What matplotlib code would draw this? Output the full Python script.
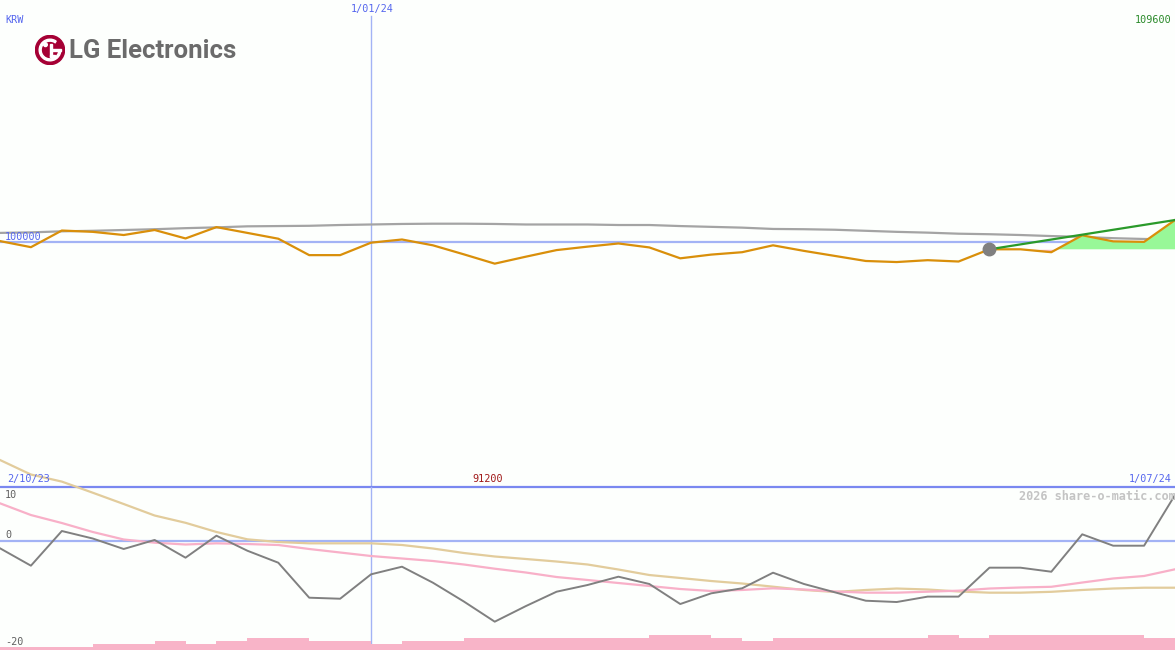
import numpy as np
import matplotlib.pyplot as plt
from matplotlib.patches import Circle, Wedge, Rectangle

W, H = 1175, 650
BG = '#fdfffd'

# === Data (weekly, 9/10/23 .. 1/07/24) ===
weeks = np.arange(39)
price = [100050, 99820, 100450, 100400, 100280, 100470, 100150, 100580, 100360, 100140,
         99520, 99520, 99990, 100110, 99890, 99550, 99200, 99460, 99710, 99840,
         99960, 99810, 99400, 99540, 99630, 99890, 99680, 99490, 99300, 99260,
         99330, 99280, 99740, 99740, 99630, 100270, 100040, 100020, 100850]
price_ma = [100360, 100380, 100420, 100440, 100470, 100500, 100540, 100570, 100610, 100620,
            100630, 100660, 100680, 100700, 100710, 100710, 100700, 100680, 100680, 100680,
            100660, 100660, 100620, 100590, 100560, 100510, 100500, 100480, 100440, 100400,
            100370, 100330, 100310, 100280, 100240, 100210, 100160, 100130, 100110]
rel_price = [-1.35, -4.57, 1.85, 0.46, -1.48, 0.19, -3.09, 0.98, -1.80, -4.02,
             -10.5, -10.69, -6.17, -4.76, -7.72, -11.2, -14.94, -12.07, -9.39, -8.15,
             -6.61, -7.96, -11.67, -9.69, -8.76, -5.87, -7.96, -9.5, -11.06, -11.3,
             -10.3, -10.3, -4.94, -4.94, -5.69, 1.24, -0.87, -0.87, 8.52]
rel_fast = [6.98, 4.81, 3.33, 1.67, 0.28, -0.31, -0.65, -0.43, -0.56, -0.74,
            -1.48, -2.13, -2.78, -3.24, -3.7, -4.35, -5.13, -5.83, -6.67, -7.22,
            -7.78, -8.33, -8.89, -9.26, -9.07, -8.76, -8.98, -9.35, -9.57, -9.57,
            -9.39, -9.2, -8.8, -8.61, -8.48, -7.69, -6.94, -6.48, -5.24]
rel_slow = [15.0, 12.31, 11.0, 8.94, 6.85, 4.72, 3.37, 1.67, 0.31, -0.19,
            -0.43, -0.43, -0.43, -0.74, -1.39, -2.22, -2.87, -3.33, -3.8, -4.35,
            -5.28, -6.3, -6.85, -7.41, -7.87, -8.46, -9.07, -9.44, -9.07, -8.8,
            -8.98, -9.35, -9.57, -9.57, -9.41, -9.07, -8.8, -8.65, -8.65]
volume = [1.1, 1.1, 1.1, 2, 2, 3, 2, 3, 4, 4, 3, 3, 2, 3, 3, 4, 4, 4, 4, 4,
          4, 5, 5, 4, 3, 4, 4, 4, 4, 4, 5, 4, 5, 5, 5, 5, 5, 4]

price_top, price_bottom = 109600, 91200
ref_level = 100000
new_year = 12      # week index of 1/01/24
trend_start = 32   # start of the projection

def fx(x):
    return x / W

def fy(y):
    return 1 - y / H

fig = plt.figure(figsize=(W / 100, H / 100), dpi=100, facecolor=BG)
mono = 'DejaVu Sans Mono'
fs = 7.3

# === Price panel ===
ax = fig.add_axes([0, fy(486), 1, 486 / H])
ax.set_yscale('log')
ax.set_xlim(0, 38)
ax.set_ylim(price_bottom, price_top)
ax.axis('off')

ax.axhline(ref_level, color='#a3b3f5', lw=1.6, zorder=1)
ax.axvline(new_year, ymax=1 - 16 / 486, color='#a3b3f5', lw=1, zorder=1)
ax.plot(weeks, price_ma, color='#a4a4a4', lw=1.6, zorder=2)

xs = weeks[trend_start:]
ps = np.array(price[trend_start:])
base = price[trend_start]
ax.fill_between(xs, ps, base, where=ps >= base, interpolate=True, color='#98f898', lw=0, zorder=2)
ax.fill_between(xs, ps, base, where=ps <= base, interpolate=True, color='#f8b8c8', lw=0, zorder=2)
ax.plot(weeks, price, color='#d98f0a', lw=1.6, zorder=3)
ax.plot([trend_start, 38], [price[trend_start], price[38]], color='#2a9a2a', lw=1.6, zorder=4)
ax.plot([trend_start], [price[trend_start]], 'o', ms=9, color='#808080', zorder=5)

ax.text(0.004, ref_level, '100000', color='#5566ee', fontsize=fs, family=mono,
        va='bottom', ha='left', transform=ax.get_yaxis_transform())
fig.text(fx(372), fy(9), '1/01/24', color='#5566ee', fontsize=fs, family=mono,
         ha='center', va='center')
fig.text(fx(5), fy(20), 'KRW', color='#5566ee', fontsize=fs, family=mono, va='center')
fig.text(fx(1172), fy(20), str(price_top), color='#2a8a2a', fontsize=fs, family=mono,
         va='center', ha='right')

# logo
lax = fig.add_axes([fx(35), fy(65), 30 / W, 30 / H])
lax.set_xlim(-1, 1)
lax.set_ylim(-1, 1)
lax.set_aspect('equal')
lax.axis('off')
lax.add_patch(Circle((0, 0), 0.97, color='#a50034'))
lax.add_patch(Wedge((0, 0), 0.72, 55, 360, width=0.13, color='white'))
lax.add_patch(Rectangle((0.12, -0.065), 0.6, 0.13, color='white'))
lax.add_patch(Circle((-0.3, 0.35), 0.12, color='white'))
lax.add_patch(Rectangle((-0.02, -0.45), 0.13, 0.85, color='white'))
lax.add_patch(Rectangle((-0.02, -0.45), 0.34, 0.13, color='white'))
fig.text(fx(69), fy(51), 'LG Electronics', color='#6b6b6b', fontsize=18.5,
         family='Roboto', weight='bold', va='center', ha='left')

# === Indicator panel ===
bx = fig.add_axes([0, 0, 1, 163 / H])
bx.set_xlim(0, 38)
bx.set_ylim(-20.185, 10)
bx.axis('off')

bx.axhline(10, color='#7a88f0', lw=1.6, zorder=1, clip_on=False)
bx.axhline(0, color='#a3b3f5', lw=1.6, zorder=1)
bx.axvline(new_year, ymin=7 / 163, ymax=1, color='#a3b3f5', lw=1, zorder=1)
bx.plot(weeks, rel_slow, color='#e2cc9c', lw=1.6, zorder=2, clip_on=False)
bx.plot(weeks, rel_fast, color='#f8b0c8', lw=1.6, zorder=2, clip_on=False)
bx.plot(weeks, rel_price, color='#808080', lw=1.4, zorder=3, clip_on=False)

vx = fig.add_axes([0, 0, 1, 30 / H])
vx.set_xlim(0, 38)
vx.set_ylim(0, 10)
vx.axis('off')
vx.bar(weeks[:-1], volume, width=1, align='edge', color='#f8b4c8', lw=0)

fig.text(fx(7), fy(479), '2/10/23', color='#5566ee', fontsize=fs, family=mono, va='center')
fig.text(fx(488), fy(479), str(price_bottom), color='#a01818', fontsize=fs, family=mono,
         va='center', ha='center')
fig.text(fx(1172), fy(479), '1/07/24', color='#5566ee', fontsize=fs, family=mono,
         va='center', ha='right')
fig.text(fx(5), fy(495), '10', color='#606060', fontsize=fs, family=mono, va='center')
fig.text(fx(5), fy(535), '0', color='#606060', fontsize=fs, family=mono, va='center')
fig.text(fx(5), fy(642), '-20', color='#606060', fontsize=fs, family=mono, va='center')
fig.text(fx(1176), fy(496), '2026 share-o-matic.com', color='#c4c4c4', fontsize=8.6,
         family=mono, weight='bold', va='center', ha='right')

fig.savefig('out.png', dpi=100, facecolor=BG)
